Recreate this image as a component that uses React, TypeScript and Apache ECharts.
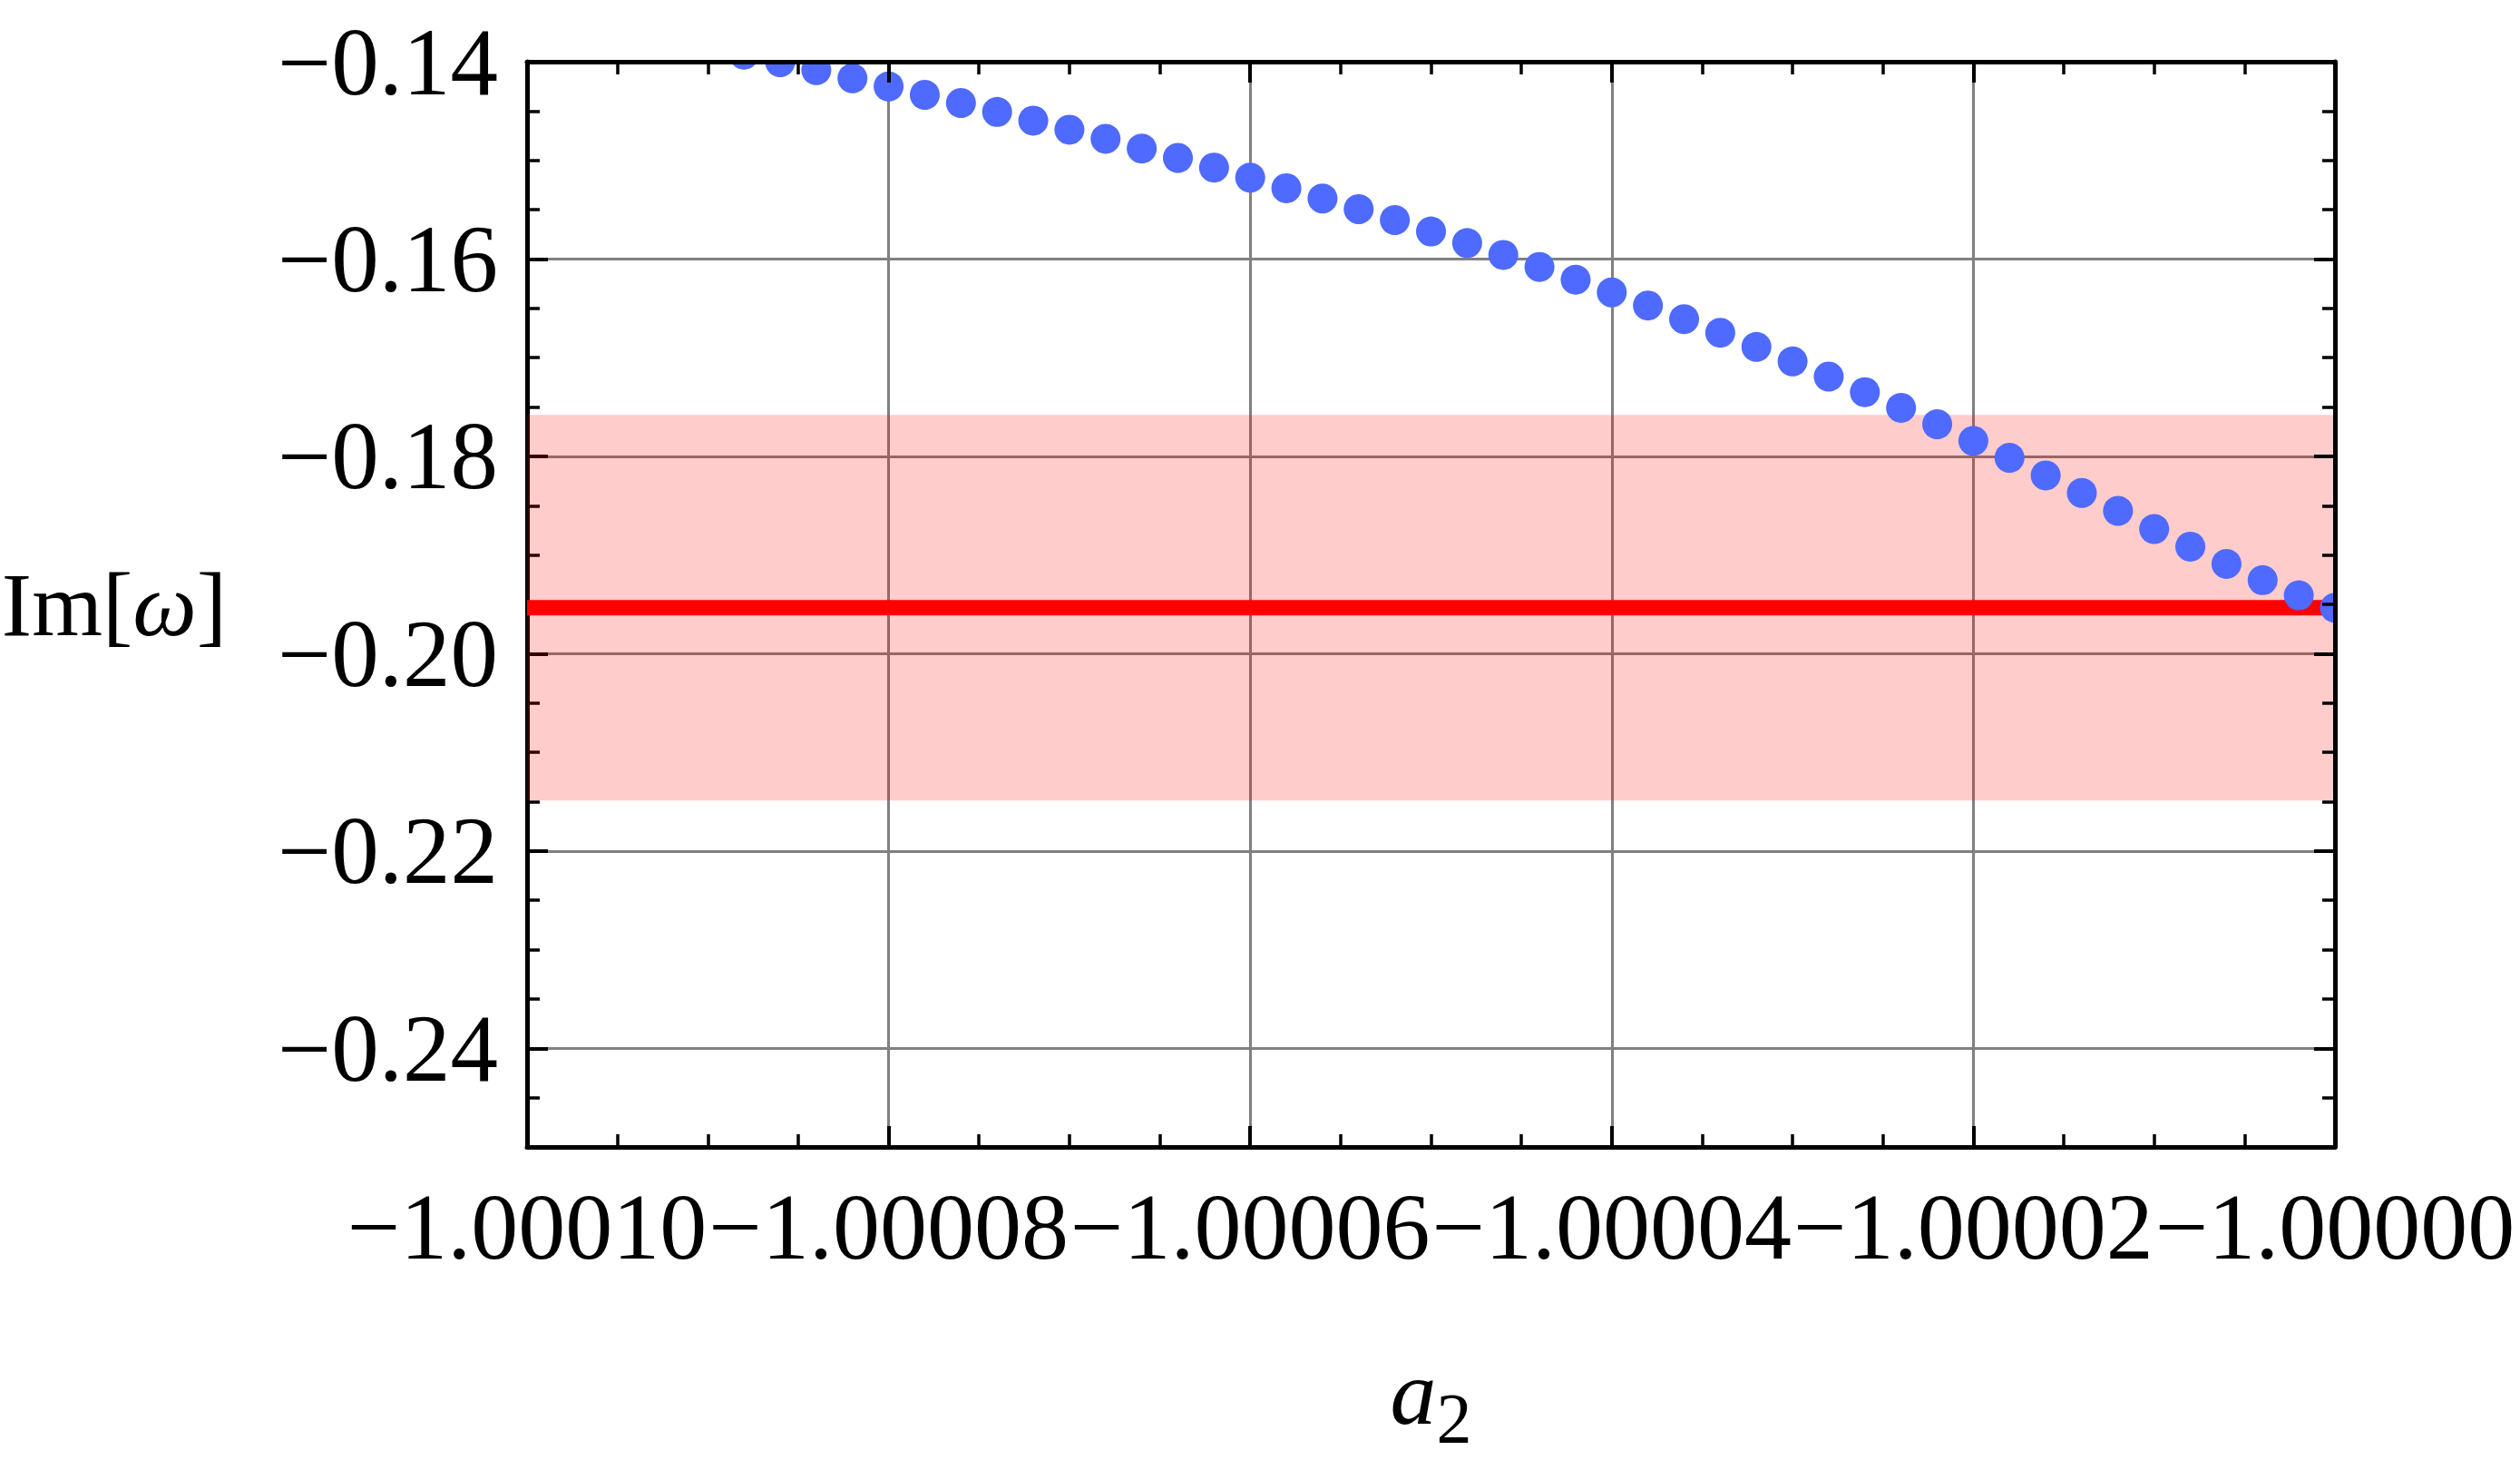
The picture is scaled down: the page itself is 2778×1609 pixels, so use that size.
import React, { useEffect, useRef } from "react";
import * as echarts from "echarts";

// Axis ranges and tick labels
const X_MIN = -1.0001;
const X_MAX = -1.0;
const X_STEP = 0.00002;
const Y_MIN = -0.25;
const Y_MAX = -0.14;
const Y_MINOR_STEP = 0.005;

const xTickValues = [-1.0001, -1.00008, -1.00006, -1.00004, -1.00002, -1.0];
const xTickLabels = ["−1.00010", "−1.00008", "−1.00006", "−1.00004", "−1.00002", "−1.00000"];
const yTickValues = [-0.24, -0.22, -0.2, -0.18, -0.16, -0.14];
const yTickLabels = ["−0.24", "−0.22", "−0.20", "−0.18", "−0.16", "−0.14"];

// Data: a2 values and Im[omega] of the scanned points
const a2Values = [
  -1.000088, -1.000086, -1.000084, -1.000082, -1.00008, -1.000078, -1.000076, -1.000074,
  -1.000072, -1.00007, -1.000068, -1.000066, -1.000064, -1.000062, -1.00006, -1.000058,
  -1.000056, -1.000054, -1.000052, -1.00005, -1.000048, -1.000046, -1.000044, -1.000042,
  -1.00004, -1.000038, -1.000036, -1.000034, -1.000032, -1.00003, -1.000028, -1.000026,
  -1.000024, -1.000022, -1.00002, -1.000018, -1.000016, -1.000014, -1.000012, -1.00001,
  -1.000008, -1.000006, -1.000004, -1.000002, -1.0,
];
const imOmegaValues = [
  -0.13928, -0.14005, -0.14085, -0.14168, -0.14251, -0.14336, -0.14419, -0.14509,
  -0.14597, -0.14689, -0.14781, -0.1488, -0.14975, -0.15073, -0.15175, -0.15282,
  -0.15386, -0.15494, -0.15605, -0.15721, -0.15838, -0.15958, -0.1608, -0.16209,
  -0.16338, -0.16471, -0.16609, -0.16747, -0.16891, -0.17038, -0.17192, -0.17349,
  -0.17508, -0.17674, -0.17843, -0.18015, -0.18193, -0.18371, -0.18553, -0.18737,
  -0.18915, -0.1909, -0.19255, -0.19409, -0.19535,
];

// Reference value (red line) and its band
const refLineX = [-1.0001, -1.0];
const refLineY = [-0.19535, -0.19535];
const refBand = [-0.2149, -0.1758];

const FONT = "'Liberation Serif', 'DejaVu Serif', serif";

function fmt(values: number[], labels: string[]) {
  return (v: number) => {
    const i = values.findIndex((t) => Math.abs(t - v) < 1e-9);
    return i >= 0 ? labels[i] : "";
  };
}

export default function App() {
  const ref = useRef<HTMLDivElement>(null);

  useEffect(() => {
    if (!ref.current) return;
    const chart = echarts.init(ref.current, undefined, { renderer: "svg" });

    const frameLine = { show: true, onZero: false, lineStyle: { color: "#000", width: 5 } };
    const majorTick = { show: true, inside: true, length: 23, lineStyle: { color: "#000", width: 4 } };
    const minorTickX = { show: true, splitNumber: 4, length: 14, lineStyle: { color: "#000", width: 3.5 } };
    const minorTickY = { show: true, inside: true, length: 14, lineStyle: { color: "#000", width: 3.5 } };
    const grayGrid = { show: true, lineStyle: { color: "#808080", width: 3 } };

    const dots = a2Values.map((x, i) => [x, imOmegaValues[i]]);
    const refLine = refLineX.map((x, i) => [x, refLineY[i]]);

    chart.setOption({
      animation: false,
      backgroundColor: "#fff",
      grid: { left: 581, right: 204, top: 68, bottom: 345, containLabel: false, outerBoundsMode: "none" },
      xAxis: [
        {
          type: "value",
          position: "bottom",
          min: X_MIN,
          max: X_MAX,
          interval: X_STEP,
          axisLine: frameLine,
          axisTick: majorTick,
          minorTick: minorTickX,
          splitLine: grayGrid,
          axisLabel: {
            show: true,
            margin: 35,
            fontSize: 104,
            fontFamily: FONT,
            color: "#000",
            interval: 0,
            hideOverlap: false,
            showMinLabel: true,
            showMaxLabel: true,
            customValues: xTickValues,
            formatter: fmt(xTickValues, xTickLabels),
          },
          name: "{a|a}{s|2}",
          nameLocation: "middle",
          nameGap: 219,
          nameTextStyle: {
            align: "center",
            verticalAlign: "top",
            color: "#000",
            fontFamily: FONT,
            fontSize: 102,
            rich: {
              a: { fontFamily: FONT, fontStyle: "italic", fontSize: 102, color: "#000", verticalAlign: "top" },
              s: { fontFamily: FONT, fontSize: 78, color: "#000", verticalAlign: "top", padding: [40, 0, 0, 0] },
            },
          },
        },
        {
          type: "value",
          position: "top",
          min: X_MIN,
          max: X_MAX,
          interval: X_STEP,
          z: 10,
          axisLine: frameLine,
          axisTick: majorTick,
          minorTick: minorTickX,
          splitLine: { show: false },
          axisLabel: { show: false },
        },
      ],
      yAxis: [
        {
          type: "value",
          position: "left",
          min: Y_MIN,
          max: Y_MAX,
          interval: Y_MINOR_STEP,
          axisLine: frameLine,
          axisTick: { ...majorTick, customValues: yTickValues },
          splitLine: grayGrid,
          axisLabel: {
            show: true,
            margin: 32,
            fontSize: 105,
            fontFamily: FONT,
            color: "#000",
            hideOverlap: false,
            showMinLabel: true,
            showMaxLabel: true,
            customValues: yTickValues,
            formatter: fmt(yTickValues, yTickLabels),
          },
          name: "Im[{w|ω}]",
          nameLocation: "middle",
          nameRotate: 0,
          nameGap: 455,
          nameTextStyle: {
            align: "center",
            verticalAlign: "middle",
            color: "#000",
            fontFamily: FONT,
            fontSize: 100,
            rich: {
              w: { fontFamily: FONT, fontStyle: "italic", fontSize: 100, color: "#000" },
            },
          },
        },
        {
          type: "value",
          position: "left",
          min: Y_MIN,
          max: Y_MAX,
          interval: Y_MINOR_STEP,
          axisLine: { show: false },
          axisTick: minorTickY,
          splitLine: { show: false },
          axisLabel: { show: false },
        },
        {
          type: "value",
          position: "right",
          min: Y_MIN,
          max: Y_MAX,
          interval: Y_MINOR_STEP,
          z: 10,
          axisLine: frameLine,
          axisTick: { ...majorTick, customValues: yTickValues },
          splitLine: { show: false },
          axisLabel: { show: false },
        },
        {
          type: "value",
          position: "right",
          min: Y_MIN,
          max: Y_MAX,
          interval: Y_MINOR_STEP,
          z: 10,
          axisLine: { show: false },
          axisTick: minorTickY,
          splitLine: { show: false },
          axisLabel: { show: false },
        },
      ],
      series: [
        {
          type: "line",
          xAxisIndex: 0,
          yAxisIndex: 0,
          data: refLine,
          symbol: "none",
          z: 2,
          lineStyle: { color: "#ff0000", width: 17 },
          markArea: {
            silent: true,
            itemStyle: { color: "rgba(255,0,0,0.2)", borderWidth: 0 },
            data: [[{ yAxis: refBand[0] }, { yAxis: refBand[1] }]],
          },
        },
        {
          type: "custom",
          xAxisIndex: 0,
          yAxisIndex: 0,
          z: 3,
          clip: true,
          encode: { x: 0, y: 1 },
          data: dots,
          renderItem: (params: any, api: any) => {
            const p = api.coord([api.value(0), api.value(1)]);
            return {
              type: "circle",
              shape: { cx: p[0], cy: p[1], r: 16.5 },
              style: { fill: "#4f6aff" },
            };
          },
        },
      ],
    });

    return () => chart.dispose();
  }, []);

  return (
    <div
      ref={ref}
      style={{ position: "fixed", left: 0, top: 0, width: 2778, height: 1609, background: "#fff" }}
    />
  );
}
